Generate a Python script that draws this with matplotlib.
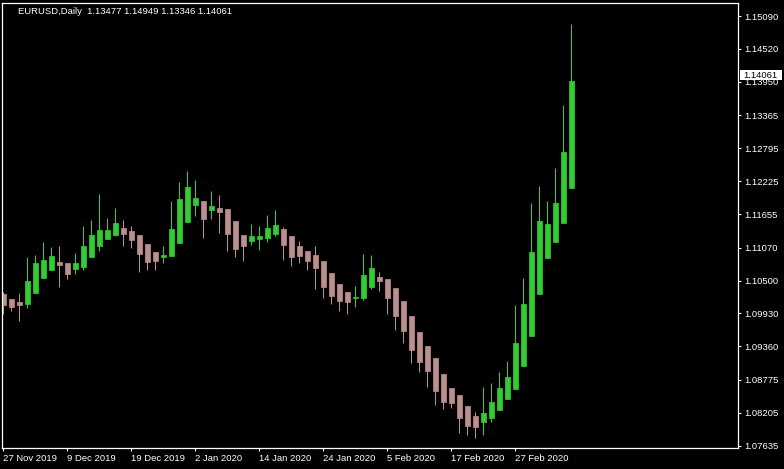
import matplotlib
matplotlib.use("Agg")
import matplotlib.pyplot as plt
import numpy as np
from matplotlib.patches import Rectangle

# EURUSD daily bars, 27 Nov 2019 .. 9 Mar 2020
opens = [1.10267, 1.10180, 1.10128, 1.10094, 1.10284, 1.10545, 1.10683, 1.10822, 1.10805, 1.10701,
         1.10736, 1.10909, 1.11100, 1.11221, 1.11291, 1.11412, 1.11360, 1.11291, 1.11135, 1.10996,
         1.10909, 1.10926, 1.11152, 1.11516, 1.11811, 1.11881, 1.11724, 1.11759, 1.11742, 1.11534,
         1.11291, 1.11187, 1.11221, 1.11239, 1.11308, 1.11395, 1.11273, 1.11100, 1.11013, 1.10944,
         1.10840, 1.10631, 1.10441, 1.10302, 1.10198, 1.10198, 1.10389, 1.10562, 1.10527, 1.10371,
         1.10146, 1.09885, 1.09608, 1.09365, 1.09157, 1.08879, 1.08636, 1.08515, 1.08324, 1.08150,
         1.08046, 1.08116, 1.08254, 1.08445, 1.08619, 1.09018, 1.09538, 1.10267, 1.10892, 1.11169,
         1.11499, 1.12106]
highs = [1.10302, 1.10180, 1.10284, 1.10909, 1.10944, 1.11169, 1.11083, 1.11100, 1.10805, 1.10978,
         1.11447, 1.11551, 1.12002, 1.11586, 1.11759, 1.11551, 1.11447, 1.11291, 1.11135, 1.10996,
         1.11100, 1.11881, 1.12210, 1.12401, 1.12245, 1.11881, 1.12054, 1.11985, 1.11742, 1.11534,
         1.11291, 1.11482, 1.11447, 1.11638, 1.11724, 1.11430, 1.11273, 1.11187, 1.11013, 1.11100,
         1.10840, 1.10631, 1.10441, 1.10302, 1.10406, 1.10961, 1.10944, 1.10649, 1.10527, 1.10371,
         1.10146, 1.09885, 1.09608, 1.09365, 1.09157, 1.08879, 1.08636, 1.08515, 1.08324, 1.08220,
         1.08654, 1.08723, 1.08914, 1.09105, 1.10076, 1.10545, 1.11846, 1.12141, 1.11881, 1.12453,
         1.13546, 1.14952]
lows = [1.09920, 1.09972, 1.09799, 1.10024, 1.10284, 1.10545, 1.10683, 1.10389, 1.10527, 1.10614,
        1.10683, 1.10909, 1.11013, 1.11221, 1.11273, 1.11100, 1.11065, 1.10649, 1.10683, 1.10683,
        1.10805, 1.10926, 1.11152, 1.11516, 1.11620, 1.11239, 1.11568, 1.11325, 1.11013, 1.10909,
        1.10840, 1.11117, 1.11030, 1.11169, 1.11273, 1.10857, 1.10753, 1.10805, 1.10683, 1.10354,
        1.10198, 1.10094, 1.09972, 1.09920, 1.10042, 1.10163, 1.10354, 1.10319, 1.09920, 1.09642,
        1.09417, 1.09070, 1.08914, 1.08654, 1.08341, 1.08272, 1.08289, 1.07855, 1.07821, 1.07769,
        1.07821, 1.08046, 1.08254, 1.08445, 1.08619, 1.09018, 1.09538, 1.10267, 1.10892, 1.11169,
        1.11499, 1.12106]
closes = [1.10076, 1.10042, 1.10076, 1.10493, 1.10805, 1.10857, 1.10926, 1.10770, 1.10614, 1.10805,
          1.11100, 1.11291, 1.11377, 1.11377, 1.11499, 1.11308, 1.11204, 1.10961, 1.10822, 1.10840,
          1.10944, 1.11395, 1.11915, 1.12124, 1.11933, 1.11568, 1.11794, 1.11690, 1.11308, 1.11048,
          1.11100, 1.11273, 1.11273, 1.11412, 1.11464, 1.11117, 1.10909, 1.10926, 1.10840, 1.10718,
          1.10389, 1.10232, 1.10146, 1.10128, 1.10215, 1.10597, 1.10718, 1.10493, 1.10198, 1.09885,
          1.09625, 1.09295, 1.09087, 1.08931, 1.08584, 1.08393, 1.08376, 1.08116, 1.07977, 1.07960,
          1.08202, 1.08393, 1.08636, 1.08827, 1.09417, 1.10094, 1.10996, 1.11534, 1.11482, 1.11846,
          1.12731, 1.13963]

date_idx = [0, 8, 16, 24, 32, 40, 48, 56, 64]
date_labels = ['27 Nov 2019', '9 Dec 2019', '19 Dec 2019', '2 Jan 2020', '14 Jan 2020',
               '24 Jan 2020', '5 Feb 2020', '17 Feb 2020', '27 Feb 2020']
price_ticks = [1.15090, 1.14520, 1.13950, 1.13365, 1.12795, 1.12225, 1.11655,
               1.11070, 1.10500, 1.09930, 1.09360, 1.08775, 1.08205, 1.07635]
header = 'EURUSD,Daily  1.13477 1.14949 1.13346 1.14061'
last_price = 1.14061

UP = '#32cd32'
DOWN = '#bc8f8f'
FONT = 'Liberation Sans'
FS = 6.8

o = np.array(opens); h = np.array(highs); l = np.array(lows); c = np.array(closes)
x = np.arange(len(o))
cols = [UP if cc >= oo else DOWN for oo, cc in zip(o, c)]

W, H = 784, 469
fig = plt.figure(figsize=(W / 100, H / 100), dpi=100, facecolor='black')
ax = fig.add_axes([2 / W, 1 - 448 / H, 736 / W, 445 / H], facecolor='black')

ax.vlines(x, l, h, colors=cols, linewidth=0.75)
ax.bar(x, c - o, bottom=o, width=0.56, color=cols, edgecolor=cols, linewidth=0.5)

ax.set_xlim(-0.16, 91.84)
ax.set_ylim(1.07595, 1.15316)

for s in ax.spines.values():
    s.set_color('white')
    s.set_linewidth(0.9)

ax.yaxis.tick_right()
ax.set_yticks(price_ticks)
ax.set_yticklabels([f'{p:.5f}' for p in price_ticks])
ax.set_xticks(date_idx)
ax.set_xticklabels(date_labels)
ax.tick_params(colors='white', length=2.2, width=0.8, pad=2, labelsize=FS)
for lbl in ax.get_xticklabels() + ax.get_yticklabels():
    lbl.set_family(FONT)
    lbl.set_color('white')
for lbl in ax.get_xticklabels():
    lbl.set_ha('left')

# current price marker on the price scale
tr = ax.get_yaxis_transform()
half = 5 * (1.15316 - 1.07595) / 445
ax.add_patch(Rectangle((1 + 2 / 736, last_price - half), 42 / 736, 2 * half,
                       transform=tr, facecolor='white', edgecolor='none',
                       clip_on=False, zorder=6))
ax.text(1 + 5 / 736, last_price, f'{last_price:.5f}', transform=tr, color='black',
        fontsize=FS, family=FONT, va='center', ha='left', zorder=7, clip_on=False)

fig.text(18 / W, 1 - 11 / H, header, color='white', fontsize=FS, family=FONT,
         va='center', ha='left')

fig.savefig('out.png', dpi=100, facecolor='black')
